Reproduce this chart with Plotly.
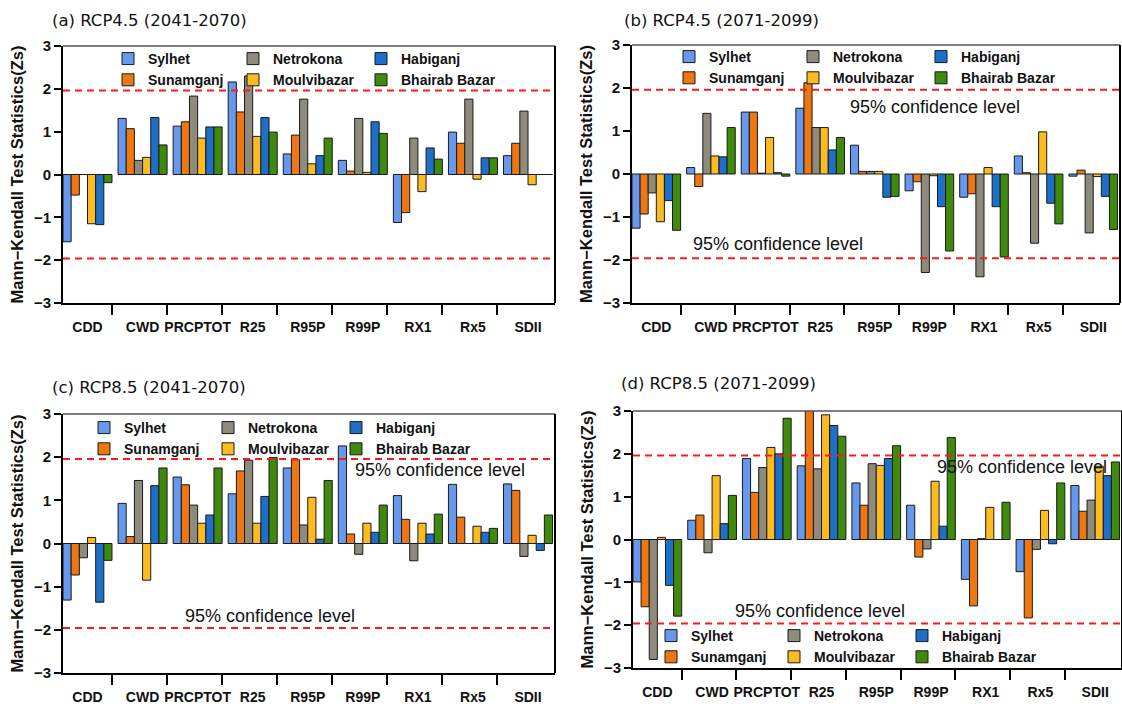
import plotly.graph_objects as go

W, H = 1122, 706

categories = ["CDD", "CWD", "PRCPTOT", "R25", "R95P", "R99P", "RX1", "Rx5", "SDII"]
stations = ["Sylhet", "Sunamganj", "Netrokona", "Moulvibazar", "Habiganj", "Bhairab Bazar"]
y_ticks = [-3, -2, -1, 0, 1, 2, 3]
conf_level = 1.96

# (a) RCP4.5 (2041-2070)
a_sylhet = [-1.57, 1.31, 1.13, 2.16, 0.48, 0.33, -1.12, 0.99, 0.44]
a_sunamganj = [-0.48, 1.07, 1.23, 1.46, 0.92, 0.08, -0.89, 0.73, 0.73]
a_netrokona = [0.0, 0.33, 1.83, 2.30, 1.76, 1.31, 0.85, 1.76, 1.48]
a_moulvibazar = [-1.15, 0.40, 0.85, 0.89, 0.25, 0.05, -0.40, -0.11, -0.24]
a_habiganj = [-1.17, 1.33, 1.11, 1.33, 0.44, 1.23, 0.62, 0.39, 0.0]
a_bhairab = [-0.19, 0.69, 1.11, 0.99, 0.85, 0.96, 0.36, 0.39, 0.0]

# (b) RCP4.5 (2071-2099)
b_sylhet = [-1.26, 0.15, 1.44, 1.53, 0.67, -0.39, -0.54, 0.42, -0.05]
b_sunamganj = [-0.93, -0.29, 1.44, 2.12, 0.06, -0.18, -0.46, 0.03, 0.09]
b_netrokona = [-0.44, 1.41, 0.02, 1.08, 0.06, -2.29, -2.39, -1.61, -1.37]
b_moulvibazar = [-1.11, 0.42, 0.85, 1.08, 0.06, -0.04, 0.15, 0.98, -0.06]
b_habiganj = [-0.62, 0.40, 0.03, 0.56, -0.54, -0.76, -0.76, -0.68, -0.52]
b_bhairab = [-1.31, 1.08, -0.05, 0.85, -0.52, -1.79, -1.93, -1.16, -1.29]

# (c) RCP8.5 (2041-2070)
c_sylhet = [-1.31, 0.93, 1.54, 1.15, 1.75, 2.26, 1.11, 1.37, 1.38]
c_sunamganj = [-0.73, 0.16, 1.36, 1.68, 1.94, 0.22, 0.56, 0.61, 1.23]
c_netrokona = [-0.33, 1.46, 0.89, 1.93, 0.43, -0.25, -0.40, 0.0, -0.30]
c_moulvibazar = [0.14, -0.85, 0.47, 0.47, 1.07, 0.47, 0.47, 0.40, 0.19]
c_habiganj = [-1.36, 1.34, 0.66, 1.09, 0.10, 0.26, 0.22, 0.26, -0.16]
c_bhairab = [-0.39, 1.75, 1.75, 1.99, 1.46, 0.89, 0.68, 0.35, 0.66]

# (d) RCP8.5 (2071-2099)
d_sylhet = [-0.99, 0.45, 1.89, 1.72, 1.32, 0.80, -0.93, -0.75, 1.26]
d_sunamganj = [-1.57, 0.57, 1.10, 3.07, 0.80, -0.41, -1.55, -1.83, 0.66]
d_netrokona = [-2.80, -0.31, 1.68, 1.65, 1.77, -0.22, 0.02, -0.23, 0.92]
d_moulvibazar = [0.05, 1.49, 2.15, 2.91, 1.73, 1.36, 0.75, 0.68, 1.71]
d_habiganj = [-1.07, 0.37, 2.00, 2.66, 1.89, 0.31, 0.0, -0.10, 1.49]
d_bhairab = [-1.79, 1.03, 2.83, 2.41, 2.19, 2.38, 0.87, 1.32, 1.81]

panel_titles = ["(a) RCP4.5 (2041-2070)", "(b) RCP4.5 (2071-2099)",
                "(c) RCP8.5 (2041-2070)", "(d) RCP8.5 (2071-2099)"]
conf_text = "95% confidence level"
y_title = "Mann\u2212Kendall Test Statistics(Zs)"

panels = [
    [a_sylhet, a_sunamganj, a_netrokona, a_moulvibazar, a_habiganj, a_bhairab],
    [b_sylhet, b_sunamganj, b_netrokona, b_moulvibazar, b_habiganj, b_bhairab],
    [c_sylhet, c_sunamganj, c_netrokona, c_moulvibazar, c_habiganj, c_bhairab],
    [d_sylhet, d_sunamganj, d_netrokona, d_moulvibazar, d_habiganj, d_bhairab],
]

colors = ["#6699EE", "#EE7711", "#8E8B7C", "#FDBB22", "#1E6FC8", "#3F8A0C"]

# ---- layout geometry (pixels) ----
# plot areas: left, right, top, bottom
areas = [(63, 555, 46, 303), (632, 1120, 45, 303), (63, 555, 414, 673), (633, 1122, 411, 668)]
title_pos = [(50, 20), (622, 20), (50, 387), (619, 383)]
# legend column text starts and first row centre
legend_pos = [([150, 275, 403], 55), ([711, 835, 963], 53), ([126, 250, 378], 424), ([693, 816, 944], 632)]
# station -> legend column
station_col = [0, 0, 1, 1, 2, 2]
# annotations: (panel, x fraction of domain, y value)
conf_annots = [(1, 0.621, 1.56), (1, 0.299, -1.63), (2, 0.766, 1.70), (2, 0.421, -1.67),
               (3, 0.795, 1.69), (3, 0.382, -1.67)]

xs = list(range(len(categories)))
fig = go.Figure()

bold_font = dict(family="Liberation Sans, Arial, sans-serif", size=14, color="#111", weight="bold")

for p, series in enumerate(panels):
    sfx = "" if p == 0 else str(p + 1)
    for s, vals in enumerate(series):
        leg_idx = p * 3 + station_col[s] + 1
        leg_name = "legend" if leg_idx == 1 else f"legend{leg_idx}"
        fig.add_trace(go.Bar(
            x=xs, y=vals, name=stations[s],
            marker=dict(color=colors[s], line=dict(color="#1a1a1a", width=1)),
            xaxis="x" + sfx, yaxis="y" + sfx, legend=leg_name,
        ))

layout = dict(
    width=W, height=H,
    margin=dict(l=0, r=0, t=0, b=0),
    paper_bgcolor="white", plot_bgcolor="white",
    barmode="group", bargap=0.11, bargroupgap=0.0,
    font=dict(family="Liberation Sans, Arial, sans-serif", color="#111"),
    shapes=[], annotations=[],
)

for p in range(4):
    sfx = "" if p == 0 else str(p + 1)
    l, r, t, b = areas[p]
    layout["xaxis" + sfx] = dict(
        domain=[l / W, min(r / W, 1.0)],
        anchor="y" + sfx,
        range=[-0.445, 8.49],
        tickmode="array", tickvals=xs, ticktext=categories,
        ticks="", ticklabelstandoff=10,
        tickfont=bold_font,
        showline=True, linecolor="black", linewidth=2,
        showgrid=False, zeroline=False, automargin=False,
        minor=dict(tickmode="array", tickvals=[i + 0.445 for i in xs[:-1]],
                   ticks="outside", ticklen=10, tickwidth=2, tickcolor="black", showgrid=False),
    )
    layout["yaxis" + sfx] = dict(
        domain=[1 - b / H, 1 - t / H],
        anchor="x" + sfx,
        range=[-3, 3],
        tickmode="array", tickvals=y_ticks,
        ticks="outside", ticklen=7, tickwidth=2, tickcolor="black",
        tickfont=dict(family="Liberation Sans, Arial, sans-serif", size=15, color="#111", weight="bold"),
        showline=True, linecolor="black", linewidth=2, mirror=False,
        showgrid=False, zeroline=False, automargin=False,
        title=dict(text=y_title, standoff=6,
                   font=dict(family="Liberation Sans, Arial, sans-serif", size=16.5, color="#111", weight="bold")),
    )
    xr = "x" + sfx
    yr = "y" + sfx
    # frame top and right
    layout["shapes"].append(dict(type="line", xref=xr + " domain", yref=yr + " domain",
                                 x0=0, x1=1, y0=1, y1=1, line=dict(color="#555", width=1.5)))
    layout["shapes"].append(dict(type="line", xref=xr + " domain", yref=yr + " domain",
                                 x0=1, x1=1, y0=0, y1=1, line=dict(color="black", width=2)))
    # 95% confidence lines
    for v in (conf_level, -conf_level):
        layout["shapes"].append(dict(type="line", xref=xr + " domain", yref=yr,
                                     x0=0, x1=1, y0=v, y1=v,
                                     line=dict(color="#FF1A1A", width=2, dash="7px,5px")))
    # panel title
    tx, ty = title_pos[p]
    layout["annotations"].append(dict(text=panel_titles[p], xref="paper", yref="paper",
                                      x=tx / W, y=1 - ty / H, xanchor="left", yanchor="middle",
                                      showarrow=False,
                                      font=dict(family="DejaVu Sans, Verdana, sans-serif", size=16.5, color="#111")))
    # legends
    cols, ry = legend_pos[p]
    for j in range(3):
        leg_idx = p * 3 + j + 1
        leg_name = "legend" if leg_idx == 1 else f"legend{leg_idx}"
        layout[leg_name] = dict(
            x=(cols[j] - 42) / W, xanchor="left",
            y=1 - (ry - 12) / H, yanchor="top",
            orientation="v", bgcolor="rgba(0,0,0,0)", borderwidth=0,
            font=dict(family="Liberation Sans, Arial, sans-serif", size=14, color="#111", weight="bold"),
            tracegroupgap=0,
        )

for p, xf, yv in conf_annots:
    sfx = "" if p == 0 else str(p + 1)
    layout["annotations"].append(dict(text=conf_text, xref="x" + sfx + " domain", yref="y" + sfx,
                                      x=xf, y=yv, xanchor="center", yanchor="middle", showarrow=False,
                                      font=dict(family="Liberation Sans, Arial, sans-serif", size=18, color="#111")))

fig.update_layout(**layout)
fig.write_html("out.html")
